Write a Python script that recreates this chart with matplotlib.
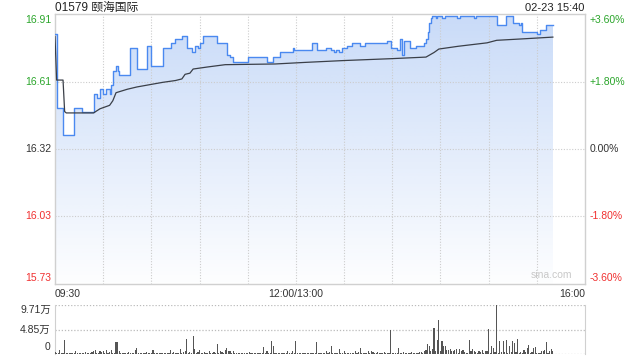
import matplotlib
matplotlib.use("Agg")
import matplotlib.pyplot as plt
import numpy as np

plt.rcParams['font.family'] = ['Liberation Sans', 'Noto Sans CJK SC']

# stock info
title_text = "01579 颐海国际"
stamp_text = "02-23 15:40"
prev_close = 16.32
pct_range = 3.6

# price breakpoints (minute from 09:30, price held until next point)
price_min = [0, 1, 5, 12, 17, 24, 26, 28, 30, 32, 34, 35, 36, 38, 39, 40, 47, 51,
             57, 60, 67, 72, 75, 79, 82, 85, 87, 89, 90, 92, 101, 107, 109, 111,
             120, 132, 136, 140, 148, 149, 160, 163, 169, 172, 174, 175, 177, 179,
             182, 185, 190, 193, 207, 209, 213, 215, 216, 217, 221, 225, 230, 231,
             232, 233, 234, 235, 237, 238, 241, 243, 250, 252, 261, 262, 275, 281,
             285, 289, 290, 291, 300, 302, 306, 310]
price_val = [16.82, 16.50, 16.38, 16.50, 16.48, 16.56, 16.54, 16.58, 16.56, 16.58,
             16.56, 16.60, 16.66, 16.68, 16.66, 16.64, 16.76, 16.67, 16.77, 16.68,
             16.76, 16.78, 16.80, 16.81, 16.76, 16.74, 16.77, 16.76, 16.78, 16.81,
             16.78, 16.73, 16.72, 16.70, 16.72, 16.70, 16.72, 16.74, 16.76, 16.75,
             16.78, 16.75, 16.76, 16.75, 16.74, 16.75, 16.74, 16.76, 16.77, 16.78,
             16.77, 16.78, 16.79, 16.76, 16.75, 16.80, 16.73, 16.79, 16.76, 16.77,
             16.78, 16.80, 16.83, 16.87, 16.89, 16.90, 16.89, 16.90, 16.89, 16.90,
             16.89, 16.90, 16.89, 16.90, 16.86, 16.90, 16.87, 16.86, 16.87, 16.83,
             16.82, 16.84, 16.86, 16.86]

# average price line
avg_min = [0, 1, 5, 6, 7, 24, 28, 34, 36, 38, 45, 51, 59, 67, 75, 79, 81, 84, 86,
           95, 106, 137, 156, 180, 209, 231, 236, 239, 251, 269, 275, 293, 310]
avg_val = [16.81, 16.62, 16.62, 16.483, 16.477, 16.477, 16.495, 16.51, 16.53,
           16.565, 16.58, 16.59, 16.60, 16.61, 16.618, 16.625, 16.645, 16.65,
           16.668, 16.677, 16.687, 16.69, 16.697, 16.705, 16.713, 16.72, 16.74,
           16.755, 16.767, 16.782, 16.793, 16.80, 16.807]

# volume per minute, thousands of shares (minute 0 .. 310)
volume_k = [
    3.3, 2, 1, 8.5, 2, 1, 27, 2, 1, 2,
    1, 2, 1, 6.5, 2, 1, 2, 1, 2, 3,
    1, 2, 1, 3, 5, 8.5, 2, 1, 5, 3,
    5, 1, 7, 2, 3, 7, 2, 1, 24, 23,
    5, 2, 2, 1, 2, 1, 3, 2, 1, 2,
    8.5, 12, 2, 1, 2, 1, 2, 3, 1, 2,
    2, 8.5, 2, 1, 2, 1, 2, 1, 2, 1,
    2, 1, 7, 2, 3, 1, 2, 2, 10.5, 2,
    3, 5, 30, 2, 3, 2, 36, 10, 2, 3,
    8.5, 2, 1, 3, 2, 1, 5, 2, 1, 3,
    2, 20, 2, 5, 3, 2, 7, 12, 5, 6.5,
    2, 5, 2, 1, 2, 1, 2, 2, 1, 2,
    1, 3, 2, 1, 2, 1, 2, 2, 1, 2,
    14, 2, 5, 2, 1, 26, 15, 2, 1, 2,
    1, 2, 1, 2, 1, 6.5, 2, 1, 5, 2,
    26, 2, 1, 2, 1, 2, 1, 2, 2, 1,
    2, 1, 2, 24, 2, 1, 2, 1, 2, 5,
    2, 3, 16, 2, 1, 2, 1, 10.5, 2, 1,
    5, 2, 1, 2, 1, 2, 1, 6.5, 2, 3,
    12, 2, 1, 2, 1, 6.5, 2, 5, 3, 1,
    2, 3, 2, 1, 2, 3, 2, 1, 2, 48,
    2, 1, 2, 1, 12, 2, 1, 3, 2, 1,
    2, 1, 3, 2, 1, 2, 1, 3, 3, 2,
    5, 8.5, 20, 16, 5, 10, 51, 5, 28, 68,
    6.5, 26, 15, 16, 8.5, 8.5, 10, 6.5, 5, 8.5,
    10.5, 2, 10.5, 5, 8.5, 3, 2, 2, 28, 6.5,
    10, 5, 3, 2, 5, 3, 7, 2, 5, 5,
    50, 2, 15, 12, 3, 97, 2, 25, 3, 26,
    3, 28, 2, 15, 3, 26, 21, 3, 30, 2,
    3, 2, 8.5, 3, 12, 18, 2, 3, 12, 14.5,
    2, 2, 1, 5, 5, 8.5, 23, 2, 5, 10, 5,
]
vol_max = 97100

price_ticks = [16.91, 16.61, 16.32, 16.03, 15.73]
pct_ticks = ["+3.60%", "+1.80%", "0.00%", "-1.80%", "-3.60%"]
tick_colors = ["#2aa52a", "#2aa52a", "#333333", "#f03030", "#f03030"]
vol_ticks = ["9.71万", "4.85万", "0"]

grid_col = "#cccccc"
frame_col = "#d0d0d0"

fig = plt.figure(figsize=(6.4, 3.6), dpi=100)
ax = fig.add_axes([55 / 640, 1 - 284 / 360, 530 / 640, 270 / 360])
vax = fig.add_axes([55 / 640, 1 - 354 / 360, 530 / 640, 49 / 360])

lo = prev_close * (1 - pct_range / 100)
hi = prev_close * (1 + pct_range / 100)
ax.set_xlim(0, 330)
ax.set_ylim(lo, hi)

# gradient fill under the price line
poly = ax.fill_between(price_min, price_val, lo, step='post', facecolor='none',
                       edgecolor='none')
grad = np.zeros((256, 1, 4))
grad[:, 0, :3] = np.array([74, 134, 232]) / 255
grad[:, 0, 3] = np.linspace(0.30, 0.01, 256)
im = ax.imshow(grad, aspect='auto', extent=[0, 310, lo, hi], origin='upper',
               interpolation='bilinear', zorder=1)
im.set_clip_path(poly.get_paths()[0], transform=ax.transData)

ax.plot(price_min, price_val, drawstyle='steps-post', color='#4a89f0', lw=1.0,
        zorder=3)
ax.plot(avg_min, avg_val, color='#3a3f48', lw=0.9, zorder=4)

# grid
for p in price_ticks[1:-1]:
    ax.axhline(p, color=grid_col, lw=0.8, ls=(0, (1, 1.5)), zorder=2)
for m in range(30, 330, 30):
    ax.axvline(m, color=grid_col, lw=0.8, ls=(0, (1, 1.5)), zorder=2)

for s in ax.spines.values():
    s.set_color(frame_col)
    s.set_linewidth(1.0)
ax.set_xticks([])
ax.set_yticks([])

# price / percent labels
for i, (p, pc, c) in enumerate(zip(price_ticks, pct_ticks, tick_colors)):
    if i == 0:
        va, off = 'top', -2
    elif i == len(price_ticks) - 1:
        va, off = 'bottom', 2
    else:
        va, off = 'center', 0
    ax.annotate(f"{p:.2f}", xy=(0, p), xycoords=('axes fraction', 'data'),
                xytext=(-4, off), textcoords='offset pixels', ha='right', va=va,
                fontsize=7.5, color=c)
    ax.annotate(pc, xy=(1, p), xycoords=('axes fraction', 'data'),
                xytext=(5, off), textcoords='offset pixels', ha='left', va=va,
                fontsize=7.5, color=c)

# time labels
ax.text(0, -0.018, "09:30", transform=ax.transAxes, ha='left', va='top',
        fontsize=7.5, color='#333333')
ax.text(150 / 330, -0.018, "12:00/13:00", transform=ax.transAxes, ha='center',
        va='top', fontsize=7.5, color='#333333')
ax.text(1, -0.018, "16:00", transform=ax.transAxes, ha='right', va='top',
        fontsize=7.5, color='#333333')
ax.text(0.975, 0.015, "sina.com", transform=ax.transAxes, ha='right',
        va='bottom', fontsize=7.5, color='#c8c8c8')

fig.text(55 / 640, 1 - 8 / 360, title_text, ha='left', va='center', fontsize=8.5,
         color='#222222')
fig.text(584 / 640, 1 - 8 / 360, stamp_text, ha='right', va='center',
         fontsize=8, color='#222222')

# volume
vax.set_xlim(0, 330)
vax.set_ylim(0, vol_max)
minutes = np.arange(len(volume_k))
vax.bar(minutes, np.array(volume_k) * 1000, width=0.7, color='#555555',
        linewidth=0, zorder=3)
vax.axhline(vol_max, color='#bbbbbb', lw=0.9, ls=(0, (1, 1.5)), zorder=2)
vax.axhline(vol_max / 2, color='#bbbbbb', lw=0.9, ls=(0, (1, 1.5)), zorder=2)
vax.axhline(0, color='#bbbbbb', lw=0.9, ls=(0, (1, 1.5)), zorder=2)
for k in ['top', 'bottom']:
    vax.spines[k].set_visible(False)
for k in ['left', 'right']:
    vax.spines[k].set_color(frame_col)
vax.set_xticks([])
vax.set_yticks([])
vax.text(-0.008, 1.0, vol_ticks[0], transform=vax.transAxes, ha='right',
         va='top', fontsize=7.5, color='#333333')
vax.text(-0.008, 0.5, vol_ticks[1], transform=vax.transAxes, ha='right',
         va='center', fontsize=7.5, color='#333333')
vax.text(-0.008, 0.05, vol_ticks[2], transform=vax.transAxes, ha='right',
         va='bottom', fontsize=7.5, color='#333333')

fig.savefig("out.png", dpi=100)
